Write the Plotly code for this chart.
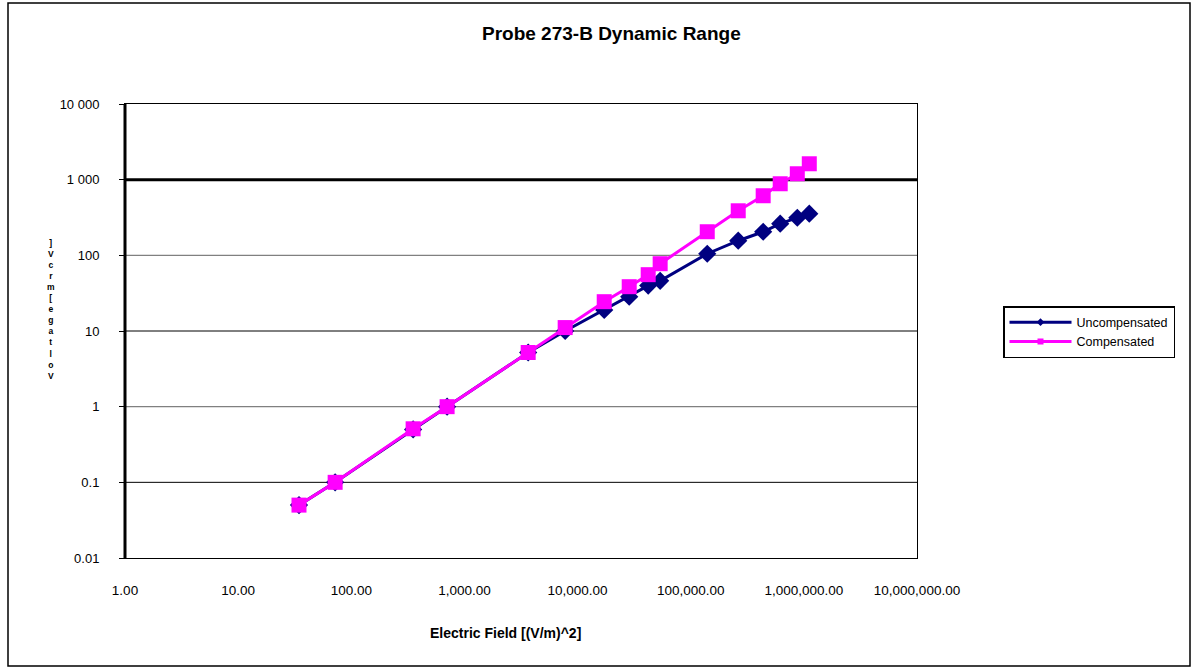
import plotly.graph_objects as go

# Data
field_sq = [34.5, 72, 352, 703, 3660, 7770, 17200, 28600, 42100, 53700,
            140000, 263000, 437000, 618000, 875000, 1117000]
uncompensated = [0.05, 0.1, 0.5, 1.0, 5.2, 10, 19, 28.4, 39.8, 46,
                 105, 156, 205, 262, 314, 355]
compensated = [0.05, 0.1, 0.51, 1.0, 5.2, 11.1, 24.4, 38.5, 55.5, 77.5,
               205, 388, 613, 883, 1197, 1622]

x_tickvals = [1, 10, 100, 1000, 10000, 100000, 1000000, 10000000]
x_ticktext = ["1.00", "10.00", "100.00", "1,000.00", "10,000.00",
              "100,000.00", "1,000,000.00", "10,000,000.00"]
y_tickvals = [0.01, 0.1, 1, 10, 100, 1000, 10000]
y_ticktext = ["0.01", "0.1", "1", "10", "100", "1 000", "10 000"]

NAVY = "#000080"
MAGENTA = "#FF00FF"
FONT = "Arial, Liberation Sans, sans-serif"

fig = go.Figure()
fig.add_trace(go.Scatter(
    x=field_sq, y=uncompensated, mode="lines+markers", name="Uncompensated",
    line=dict(color=NAVY, width=3),
    marker=dict(symbol="diamond", size=14, color=NAVY),
    showlegend=False))
fig.add_trace(go.Scatter(
    x=field_sq, y=compensated, mode="lines+markers", name="Compensated",
    line=dict(color=MAGENTA, width=3),
    marker=dict(symbol="square", size=15, color=MAGENTA),
    showlegend=False))
# legend entries with small markers
fig.add_trace(go.Scatter(
    x=[None], y=[None], mode="lines+markers", name="Uncompensated",
    line=dict(color=NAVY, width=3),
    marker=dict(symbol="diamond", size=6, color=NAVY)))
fig.add_trace(go.Scatter(
    x=[None], y=[None], mode="lines+markers", name="Compensated",
    line=dict(color=MAGENTA, width=3),
    marker=dict(symbol="square", size=6, color=MAGENTA)))

shapes = []
# horizontal grid lines (mixed styles as in the reference)
for yv, col, w in [(1000, "black", 3), (100, "#808080", 1.3),
                   (10, "black", 1), (1, "#808080", 1.3),
                   (0.1, "black", 1)]:
    shapes.append(dict(type="line", xref="paper", yref="y", x0=0, x1=1,
                       y0=yv, y1=yv, line=dict(color=col, width=w),
                       layer="below"))
# thick left axis line
shapes.append(dict(type="line", xref="paper", yref="paper", x0=0, x1=0,
                   y0=0, y1=1, line=dict(color="black", width=3)))
# outer chart border
shapes.append(dict(type="rect", xref="paper", yref="paper",
                   x0=(8 - 125) / 792, x1=(1190 - 125) / 792,
                   y0=(558 - 666) / 454, y1=(558 - 3) / 454,
                   line=dict(color="black", width=1.5)))

ylabel = "<br>".join(list("]Vcrm[egatloV"))

annotations = [
    dict(text="<b>Probe 273-B Dynamic Range</b>", xref="paper",
         yref="paper", x=(611 - 125) / 792, y=(558 - 33) / 454,
         xanchor="center", yanchor="middle", showarrow=False,
         font=dict(family=FONT, size=19, color="black")),
    dict(text="<b>Electric Field [(V/m)^2]</b>", xref="paper",
         yref="paper", x=(505 - 125) / 792, y=(558 - 633) / 454,
         xanchor="center", yanchor="middle", showarrow=False,
         font=dict(family=FONT, size=14, color="black")),
    dict(text="<b>" + ylabel + "</b>", xref="paper", yref="paper",
         x=(51 - 125) / 792, y=(558 - 309) / 454,
         xanchor="center", yanchor="middle", showarrow=False,
         font=dict(family=FONT, size=8.5, color="black")),
]

fig.update_layout(
    width=1193, height=669,
    margin=dict(l=125, r=276, t=104, b=111),
    paper_bgcolor="white", plot_bgcolor="white",
    font=dict(family=FONT, color="black", size=12),
    showlegend=True,
    legend=dict(x=(1003 - 125) / 792, y=(558 - 306) / 454,
                xanchor="left", yanchor="top",
                bordercolor="black", borderwidth=1.5, bgcolor="white",
                font=dict(family=FONT, size=12.5, color="black"),
                itemwidth=62, tracegroupgap=0),
    xaxis=dict(type="log", range=[0, 7], tickvals=x_tickvals,
               ticktext=x_ticktext, showgrid=False, zeroline=False,
               showline=True, linecolor="black", linewidth=1, mirror=True,
               ticks="", ticklabelstandoff=20,
               tickfont=dict(family=FONT, size=13.5, color="black")),
    yaxis=dict(type="log", range=[-2, 4], tickvals=y_tickvals,
               ticktext=y_ticktext, showgrid=False, zeroline=False,
               showline=True, linecolor="black", linewidth=1, mirror=True,
               ticks="outside", ticklen=5, tickcolor="black", tickwidth=1,
               ticklabelstandoff=17,
               tickfont=dict(family=FONT, size=13, color="black")),
    shapes=shapes,
    annotations=annotations,
)

fig.write_html("out.html", config={"displayModeBar": False},
               post_script="document.body.style.margin='0px';")
